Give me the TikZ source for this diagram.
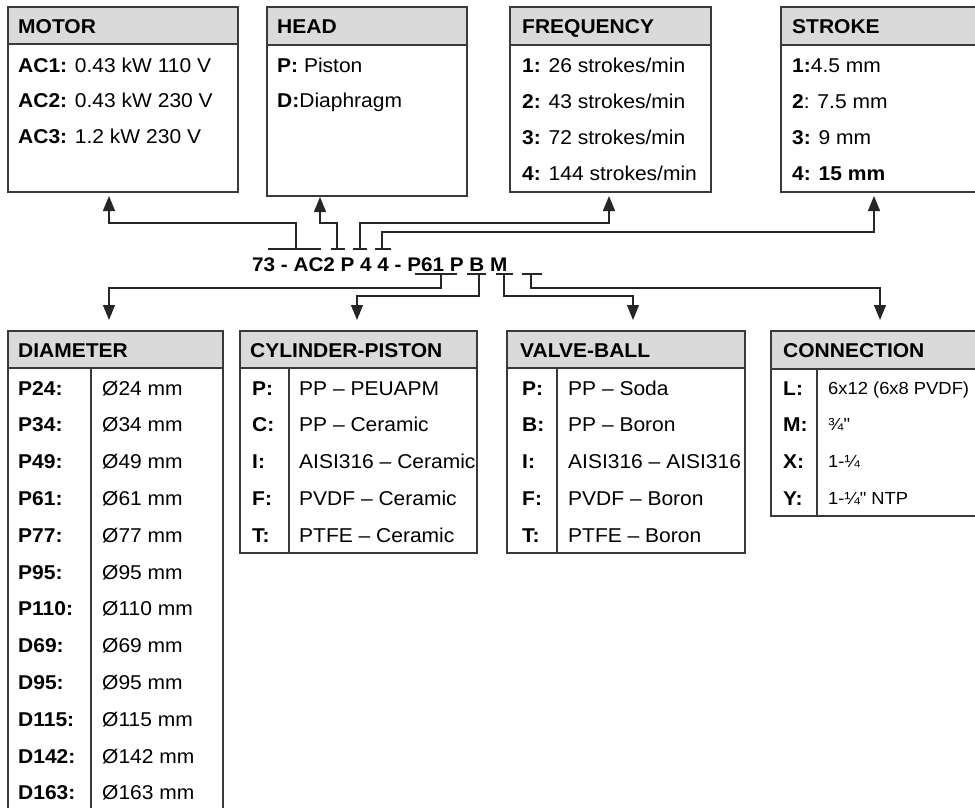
\documentclass[tikz,border=0pt]{standalone}
\usepackage{fontspec}
\setmainfont{Liberation Sans}[FakeStretch=1.05]
\newfontfamily\plainf{Liberation Sans}[FakeStretch=1.05, Ligatures=TeXOff]
\usetikzlibrary{arrows.meta}
\definecolor{linec}{HTML}{3A3A3A}
\definecolor{hdrgray}{HTML}{DADADA}
\begin{document}
\begin{tikzpicture}[x=1pt,y=-1pt,
  frame/.style={draw=linec, line width=1.4pt, fill=white, inner sep=0pt, outer sep=0pt, anchor=north west, rectangle},
  hdr/.style={frame, fill=hdrgray},
  t/.style={anchor=base west, inner sep=0pt, font=\fontsize{20}{24}\selectfont},
  ts/.style={anchor=base west, inner sep=0pt, font=\fontsize{17.5}{21}\plainf},
  sep/.style={draw=linec, line width=1.4pt},
  link/.style={draw=black!85, line width=1.3pt},
  arr/.style={link, -{Triangle[length=15pt,width=12pt]}}]
\useasboundingbox (0,0) rectangle (975,807);
\fill[white] (0,0) rectangle (975,807);
\clip (0,0) rectangle (975,807);

% ---------- top boxes ----------
\node[frame, minimum width=230pt, minimum height=185pt] (motor) at (8,7) {};
\node[hdr, minimum width=230pt, minimum height=37pt] (motorH) at (8,7) {};
\node[t] (motorT) at (18,33) {\textbf{MOTOR}};
\node[t] (m1) at (18,72) {\textbf{AC1:} 0.43 kW 110 V};
\node[t] (m2) at (18,107) {\textbf{AC2:} 0.43 kW 230 V};
\node[t] (m3) at (18,143) {\textbf{AC3:} 1.2 kW 230 V};

\node[frame, minimum width=200pt, minimum height=189pt] (head) at (267,7) {};
\node[hdr, minimum width=200pt, minimum height=38pt] (headH) at (267,7) {};
\node[t] (headT) at (277,33) {\textbf{HEAD}};
\node[t] (h1) at (277,72) {\textbf{P:} Piston};
\node[t] (h2) at (277,107) {\textbf{D:}Diaphragm};

\node[frame, minimum width=201pt, minimum height=185pt] (freq) at (510,7) {};
\node[hdr, minimum width=201pt, minimum height=38pt] (freqH) at (510,7) {};
\node[t] (freqT) at (522,33) {\textbf{FREQUENCY}};
\node[t] (f1) at (522,72) {\textbf{1:} 26 strokes/min};
\node[t] (f2) at (522,108) {\textbf{2:} 43 strokes/min};
\node[t] (f3) at (522,144) {\textbf{3:} 72 strokes/min};
\node[t] (f4) at (522,180) {\textbf{4:} 144 strokes/min};

\node[frame, minimum width=230pt, minimum height=185pt] (stroke) at (781,7) {};
\node[hdr, minimum width=230pt, minimum height=38pt] (strokeH) at (781,7) {};
\node[t] (strokeT) at (792,33) {\textbf{STROKE}};
\node[t] (s1) at (792,72) {\textbf{1:}4.5 mm};
\node[t] (s2) at (792,108) {\textbf{2}: 7.5 mm};
\node[t] (s3) at (792,144) {\textbf{3:} 9 mm};
\node[t] (s4) at (792,180) {\textbf{4: 15 mm}};

% ---------- code ----------
\node[anchor=base west, inner sep=0pt, font=\fontsize{19.7}{24}\selectfont\bfseries] (code) at (252,271) {73 - AC2 P 4 4 - P61 P B M};

% ---------- bottom boxes ----------
\node[frame, minimum width=215pt, minimum height=500pt] (dia) at (8,331) {};
\node[hdr, minimum width=215pt, minimum height=37pt] (diaH) at (8,331) {};
\draw[sep] (91,368) -- (91,840);
\node[t] (diaT) at (18,357) {\textbf{DIAMETER}};
\foreach \k/\v [count=\i from 0] in {P24/24,P34/34,P49/49,P61/61,P77/77,P95/95,P110/110,D69/69,D95/95,D115/115,D142/142,D163/163}{
  \node[t] (dk\i) at (18,395+36.8*\i) {\textbf{\k:}};
  \node[t] (dv\i) at (102,395+36.8*\i) {Ø\v\ mm};
}

\node[frame, minimum width=237pt, minimum height=222pt] (cyl) at (240,331) {};
\node[hdr, minimum width=237pt, minimum height=37pt] (cylH) at (240,331) {};
\draw[sep] (289,368) -- (289,553);
\node[t] (cylT) at (250,357) {\textbf{CYLINDER-PISTON}};
\foreach \k/\v [count=\i from 0] in {P/PP – PEUAPM,C/PP – Ceramic,I/AISI316 – Ceramic,F/PVDF – Ceramic,T/PTFE – Ceramic}{
  \node[t] (ck\i) at (252,395+36.8*\i) {\textbf{\k:}};
  \node[t] (cv\i) at (299,395+36.8*\i) {\v};
}

\node[frame, minimum width=238pt, minimum height=222pt] (valve) at (507,331) {};
\node[hdr, minimum width=238pt, minimum height=37pt] (valveH) at (507,331) {};
\draw[sep] (557,368) -- (557,553);
\node[t] (valveT) at (520,357) {\textbf{VALVE-BALL}};
\foreach \k/\v [count=\i from 0] in {P/PP – Soda,B/PP – Boron,I/AISI316 – AISI316,F/PVDF – Boron,T/PTFE – Boron}{
  \node[t] (vk\i) at (522,395+36.8*\i) {\textbf{\k:}};
  \node[t] (vv\i) at (568,395+36.8*\i) {\v};
}

\node[frame, minimum width=240pt, minimum height=185pt] (conn) at (771,331) {};
\node[hdr, minimum width=240pt, minimum height=38pt] (connH) at (771,331) {};
\draw[sep] (817,369) -- (817,516);
\node[t] (connT) at (783,357) {\textbf{CONNECTION}};
\node[t] (nk0) at (783,395) {\textbf{L:}};
\node[t] (nk1) at (783,431.8) {\textbf{M:}};
\node[t] (nk2) at (783,468.6) {\textbf{X:}};
\node[t] (nk3) at (783,505.4) {\textbf{Y:}};
\node[ts] (nv0) at (828,394) {6x12 (6x8 PVDF)};
\node[ts] (nv1) at (828,430.8) {¾"};
\node[ts] (nv2) at (828,467.6) {1-¼};
\node[ts] (nv3) at (828,504.4) {1-¼" NTP};

% ---------- connector coordinates ----------
\coordinate (motorIn) at (109,196);
\coordinate (headIn) at (320,197);
\coordinate (freqIn) at (609,196);
\coordinate (strokeIn) at (874,196);
\coordinate (diaIn) at (109,320);
\coordinate (cylIn) at (357,320);
\coordinate (valIn) at (633,320);
\coordinate (conIn) at (880,320);

\coordinate (bM1) at (268,249); \coordinate (bM2) at (321,249); \coordinate (jM) at (296,249);
\coordinate (bH1) at (331,249); \coordinate (bH2) at (345,249); \coordinate (jH) at (337,249);
\coordinate (bF1) at (353,249); \coordinate (bF2) at (367,249); \coordinate (jF) at (360,249);
\coordinate (bS1) at (375,249); \coordinate (bS2) at (391,249); \coordinate (jS) at (382,249);

\coordinate (bD1) at (415,274); \coordinate (bD2) at (457,274); \coordinate (jD) at (441,274);
\coordinate (bC1) at (467,274); \coordinate (bC2) at (486,274); \coordinate (jC) at (479,274);
\coordinate (bV1) at (496,274); \coordinate (bV2) at (513,274); \coordinate (jV) at (504,274);
\coordinate (bN1) at (522,274); \coordinate (bN2) at (542,274); \coordinate (jN) at (531,274);

\foreach \b in {M,H,F,S,D,C,V,N}{\draw[link] (b\b1) -- (b\b2);}

\draw[arr] (jM) -- ++(0,-26) -| (motorIn);
\draw[arr] (jH) -- ++(0,-26) -| (headIn);
\draw[arr] (jF) -- ++(0,-26) -| (freqIn);
\draw[arr] (jS) -- ++(0,-17) -| (strokeIn);
\draw[arr] (jD) -- ++(0,14) -| (diaIn);
\draw[arr] (jC) -- ++(0,22) -| (cylIn);
\draw[arr] (jV) -- ++(0,22) -| (valIn);
\draw[arr] (jN) -- ++(0,14) -| (conIn);
\end{tikzpicture}
\end{document}
